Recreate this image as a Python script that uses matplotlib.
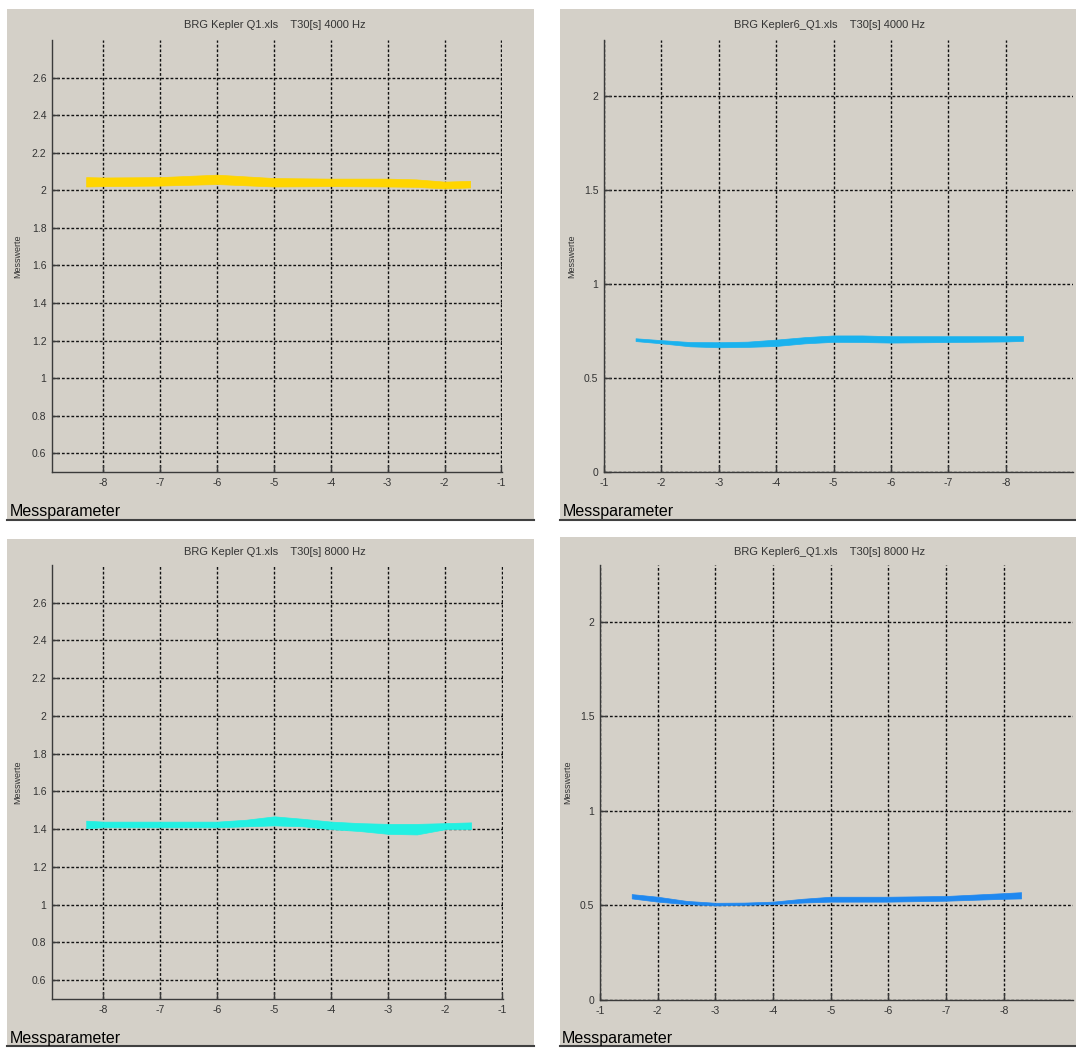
import matplotlib
matplotlib.use("Agg")
import matplotlib.pyplot as plt
from matplotlib.patches import Rectangle
from matplotlib.lines import Line2D

plt.rcParams['font.family'] = ['Liberation Sans', 'DejaVu Sans']

W, H = 1076, 1048

# ---------------- data ----------------
titles = ["BRG Kepler Q1.xls    T30[s] 4000 Hz",
          "BRG Kepler6_Q1.xls    T30[s] 4000 Hz",
          "BRG Kepler Q1.xls    T30[s] 8000 Hz",
          "BRG Kepler6_Q1.xls    T30[s] 8000 Hz"]

xticks = [-8, -7, -6, -5, -4, -3, -2, -1]
yticks_a = [0.6, 0.8, 1.0, 1.2, 1.4, 1.6, 1.8, 2.0, 2.2, 2.4, 2.6]
yticks_b = [0, 0.5, 1.0, 1.5, 2.0]

x_tl = [-8.3, -8, -7, -6, -5, -4, -3, -2.5, -2, -1.55]
up_tl = [2.070, 2.068, 2.070, 2.083, 2.065, 2.062, 2.062, 2.058, 2.046, 2.050]
lo_tl = [2.020, 2.022, 2.025, 2.033, 2.020, 2.022, 2.020, 2.018, 2.010, 2.015]

x_tr = [-1.55, -2, -2.5, -3, -3.5, -4, -4.5, -5, -5.5, -6, -7, -8, -8.3]
up_tr = [0.712, 0.702, 0.692, 0.691, 0.694, 0.705, 0.718, 0.727, 0.727, 0.723, 0.723, 0.723, 0.724]
lo_tr = [0.697, 0.685, 0.669, 0.664, 0.666, 0.671, 0.685, 0.693, 0.692, 0.689, 0.692, 0.695, 0.698]

x_bl = [-8.3, -8, -7, -6, -5.5, -5, -4.5, -4, -3.5, -3, -2.5, -2, -1.55]
up_bl = [1.445, 1.440, 1.440, 1.440, 1.450, 1.468, 1.455, 1.440, 1.432, 1.428, 1.428, 1.432, 1.436]
lo_bl = [1.405, 1.410, 1.410, 1.410, 1.415, 1.420, 1.415, 1.400, 1.390, 1.375, 1.372, 1.400, 1.400]

x_br = [-1.55, -2, -2.5, -3, -3.5, -4, -4.5, -5, -6, -7, -8, -8.3]
up_br = [0.560, 0.546, 0.524, 0.514, 0.515, 0.520, 0.535, 0.546, 0.546, 0.550, 0.565, 0.570]
lo_br = [0.537, 0.520, 0.507, 0.500, 0.503, 0.507, 0.515, 0.520, 0.520, 0.525, 0.535, 0.537]

colors = ["#FFD500", "#1AB2EE", "#22F0E2", "#1F88F0"]

BG = "#D4D0C8"

fig = plt.figure(figsize=(W / 100, H / 100), dpi=100, facecolor="white")


def fx(px):
    return px / W


def fy(py):
    return 1 - py / H


# panel backgrounds (pixel boxes: x0, x1, y0, y1)
panels = [(7, 534, 9, 520), (560, 1076, 9, 520), (7, 534, 539, 1046), (560, 1076, 537, 1046)]
for (x0, x1, y0, y1) in panels:
    fig.patches.append(Rectangle((fx(x0), fy(y1)), fx(x1) - fx(x0), fy(y0) - fy(y1),
                                 transform=fig.transFigure, facecolor=BG, edgecolor="none", zorder=-2))
    fig.lines.append(Line2D([fx(x0), fx(x1)], [fy(y1), fy(y1)], transform=fig.transFigure,
                            color="#404040", lw=1.5, zorder=-1))

# axes boxes in pixels: left, right, top, bottom
boxes = [(52, 502, 40, 472), (604, 1073, 40, 472), (52, 503, 565, 999), (600, 1073, 565, 1000)]
xlims = [(-8.9, -0.99), (-1, -9.17), (-8.9, -0.99), (-1, -9.2)]
ylims = [(0.5, 2.8), (0, 2.3), (0.5, 2.8), (0, 2.3)]
yticks_all = [yticks_a, yticks_b, yticks_a, yticks_b]
xs = [x_tl, x_tr, x_bl, x_br]
ups = [up_tl, up_tr, up_bl, up_br]
los = [lo_tl, lo_tr, lo_bl, lo_br]
title_pos = [(275, 25), (830, 25), (275, 552), (830, 552)]
ylab_pos = [(18, 256), (572, 256), (18, 782), (568, 782)]
xlab_pos = [(10, 516), (563, 516), (10, 1043), (562, 1043)]

for i in range(4):
    l, r, t, b = boxes[i]
    ax = fig.add_axes([fx(l), fy(b), fx(r) - fx(l), fy(t) - fy(b)], zorder=2)
    ax.set_facecolor("none")
    ax.set_xlim(*xlims[i])
    ax.set_ylim(*ylims[i])
    ax.set_xticks(xticks)
    ax.set_xticklabels([f"{v:g}" for v in xticks])
    ax.set_yticks(yticks_all[i])
    ax.set_yticklabels([f"{v:g}" for v in yticks_all[i]])
    for s in ["top", "right"]:
        ax.spines[s].set_visible(False)
    for s in ["left", "bottom"]:
        ax.spines[s].set_color("#3a3a3a")
        ax.spines[s].set_linewidth(1.0)
    ax.tick_params(direction="in", length=5, width=1.0, color="#3a3a3a",
                   labelsize=7.5, labelcolor="#333333", pad=4)
    ax.grid(True, color="#111111", linestyle=(0, (2, 1.4)), linewidth=1.0)
    ax.set_axisbelow(True)
    ax.fill_between(xs[i], los[i], ups[i], color=colors[i], lw=0.5, edgecolor=colors[i], zorder=3)

    tx, ty = title_pos[i]
    fig.text(fx(tx), fy(ty), titles[i], ha="center", va="center", fontsize=8, color="#333333")
    lx, ly = ylab_pos[i]
    fig.text(fx(lx), fy(ly), "Messwerte", ha="center", va="center", rotation=90,
             fontsize=6.5, color="#333333")
    mx, my = xlab_pos[i]
    fig.text(fx(mx), fy(my), "Messparameter", ha="left", va="baseline", fontsize=11.5, color="black")

fig.savefig("out.png", dpi=100, facecolor="white")
